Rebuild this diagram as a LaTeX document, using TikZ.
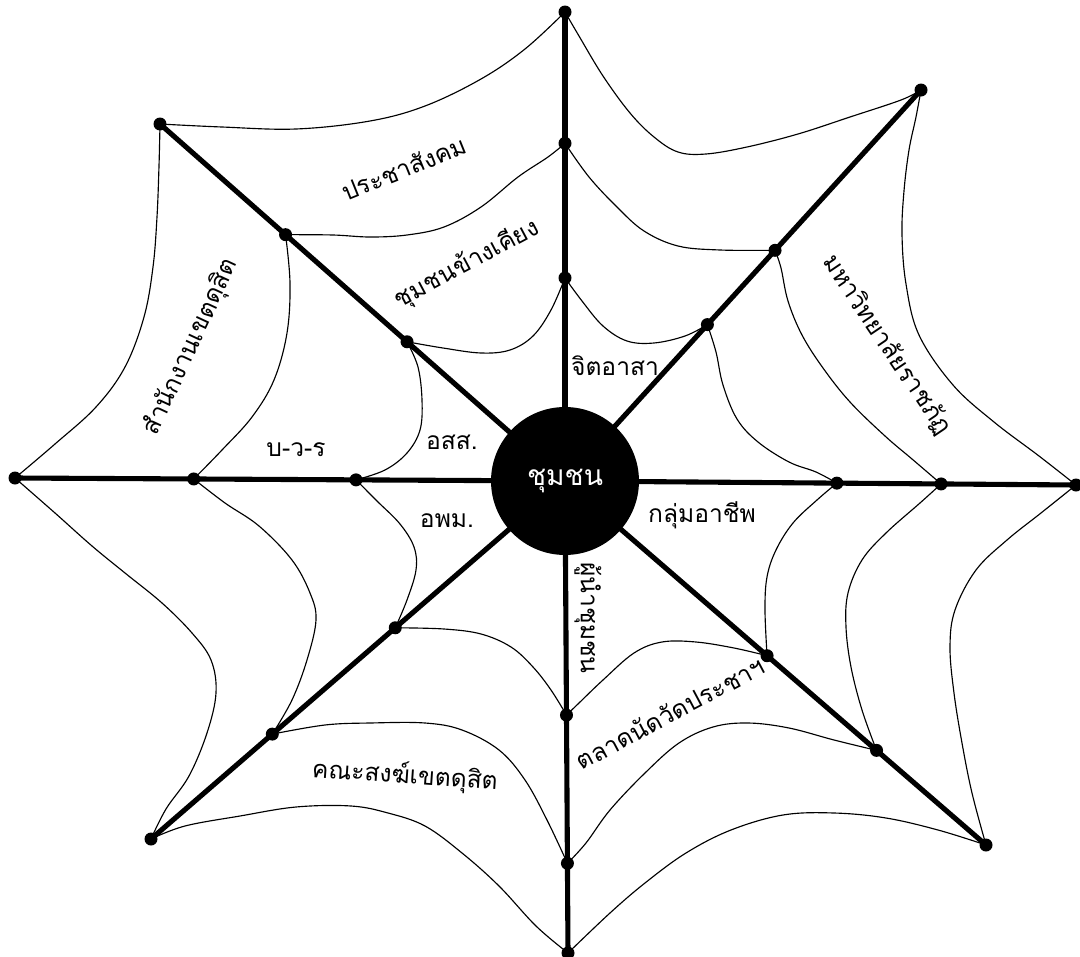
\documentclass[tikz,border=0pt]{standalone}
\usepackage{fontspec}
\setmainfont{Loma}[Script=Thai]
\usetikzlibrary{calc}
\begin{document}
\begin{tikzpicture}[x=0.02cm,y=-0.02cm,
  spoke/.style={line width=2.9pt},
  web/.style={line width=0.65pt},
  dotfill/.style={fill=black},
  lbl/.style={font=\fontsize{14pt}{17pt}\selectfont, inner sep=0pt},
  hub/.style={circle, fill=black, text=white, minimum size=2.96cm, inner sep=0pt, font=\fontsize{16pt}{19pt}\selectfont}]
\useasboundingbox (0,0) rectangle (1080,957);
\fill[white] (0,0) rectangle (1080,957);
% centre and spoke ends
\coordinate (C) at (565,481);
\coordinate (o1) at (565,12);
\coordinate (o2) at (921,90);
\coordinate (o3) at (1076,485);
\coordinate (o4) at (986,845);
\coordinate (o5) at (568,953);
\coordinate (o6) at (151,839);
\coordinate (o7) at (15,478);
\coordinate (o8) at (160,124);
% middle ring
\coordinate (m1) at ($(C)!0.72!(o1)$);
\coordinate (m2) at ($(C)!0.59!(o2)$);
\coordinate (m3) at ($(C)!0.736!(o3)$);
\coordinate (m4) at ($(C)!0.74!(o4)$);
\coordinate (m5) at ($(C)!0.81!(o5)$);
\coordinate (m6) at ($(C)!0.707!(o6)$);
\coordinate (m7) at ($(C)!0.675!(o7)$);
\coordinate (m8) at ($(C)!0.69!(o8)$);
% inner ring
\coordinate (i1) at ($(C)!0.433!(o1)$);
\coordinate (i2) at ($(C)!0.40!(o2)$);
\coordinate (i3) at ($(C)!0.532!(o3)$);
\coordinate (i4) at ($(C)!0.48!(o4)$);
\coordinate (i5) at ($(C)!0.496!(o5)$);
\coordinate (i6) at ($(C)!0.41!(o6)$);
\coordinate (i7) at ($(C)!0.38!(o7)$);
\coordinate (i8) at ($(C)!0.39!(o8)$);
% spokes
\foreach \k in {1,...,8} \draw[spoke] (C) -- (o\k);
% outer ring
\draw[web] plot[smooth,tension=0.6] coordinates {(o8) (222,127) (296,129) (370,121) (425,106) (481,79) (525,49) (o1)};
\draw[web] plot[smooth,tension=0.6] coordinates {(o1) (579,36) (603,76) (630,113) (654,137) (678,152) (706,154) (747,147) (798,134) (850,117) (901,100) (o2)};
\draw[web] plot[smooth,tension=0.6] coordinates {(o2) (916,117) (909,150) (904,191) (902,234) (906,284) (919,335) (953,385) (994,422) (1039,456) (o3)};
\draw[web] plot[smooth,tension=0.6] coordinates {(o3) (1041,513) (1007,540) (976,570) (955,610) (950,647) (954,693) (962,743) (972,793) (o4)};
\draw[web] plot[smooth,tension=0.6] coordinates {(o4) (938,830) (886,818) (834,813) (783,815) (731,830) (686,853) (645,883) (610,913) (o5)};
\draw[web] plot[smooth,tension=0.6] coordinates {(o5) (536,926) (499,886) (462,853) (425,826) (388,813) (351,806) (296,807) (240,816) (185,826) (o6)};
\draw[web] plot[smooth,tension=0.6] coordinates {(o6) (166,809) (189,776) (207,733) (216,693) (211,660) (192,633) (162,603) (125,573) (92,546) (55,513) (o7)};
\draw[web] plot[smooth,tension=0.6] coordinates {(o7) (55,444) (96,407) (125,367) (144,317) (153,267) (157,217) (159,166) (o8)};
% middle ring
\draw[web] plot[smooth,tension=0.6] coordinates {(m8) (333,235) (370,237) (407,235) (444,227) (481,207) (518,177) (548,157) (m1)};
\draw[web] plot[smooth,tension=0.6] coordinates {(m1) (589,177) (617,207) (644,231) (678,246) (720,250) (m2)};
\draw[web] plot[smooth,tension=0.6] coordinates {(m2) (781,268) (788,301) (802,335) (823,368) (850,402) (885,436) (912,459) (m3)};
\draw[web] plot[smooth,tension=0.6] coordinates {(m3) (920,503) (886,533) (862,560) (848,593) (846,627) (851,667) (862,710) (m4)};
\draw[web] plot[smooth,tension=0.6] coordinates {(m4) (834,740) (789,728) (748,723) (713,727) (679,743) (645,773) (610,810) (586,843) (m5)};
\draw[web] plot[smooth,tension=0.6] coordinates {(m5) (547,820) (525,780) (499,750) (462,730) (425,723) (370,723) (325,725) (m6)};
\draw[web] plot[smooth,tension=0.6] coordinates {(m6) (292,700) (307,660) (316,620) (310,593) (292,560) (259,526) (225,503) (m7)};
\draw[web] plot[smooth,tension=0.6] coordinates {(m7) (222,450) (252,417) (274,380) (287,333) (290,283) (m8)};
% inner ring
\draw[web] plot[smooth,tension=0.6] coordinates {(i8) (443,348) (481,353) (510,350) (533,336) (551,310) (i1)};
\draw[web] plot[smooth,tension=0.6] coordinates {(i1) (582,301) (603,326) (627,341) (654,343) (685,336) (i2)};
\draw[web] plot[smooth,tension=0.6] coordinates {(i2) (716,352) (723,385) (737,419) (758,442) (789,462) (816,472) (i3)};
\draw[web] plot[smooth,tension=0.6] coordinates {(i3) (817,500) (793,523) (776,550) (767,577) (765,610) (i4)};
\draw[web] plot[smooth,tension=0.6] coordinates {(i4) (734,648) (696,642) (662,642) (634,653) (603,680) (579,703) (i5)};
\draw[web] plot[smooth,tension=0.6] coordinates {(i5) (551,690) (533,667) (511,647) (481,634) (444,629) (i6)};
\draw[web] plot[smooth,tension=0.6] coordinates {(i6) (407,600) (416,570) (414,547) (400,524) (377,501) (i7)};
\draw[web] plot[smooth,tension=0.6] coordinates {(i7) (385,470) (407,453) (420,430) (422,400) (418,367) (i8)};
% hub
\node[hub] (hub) at (C) {ชุมชน};
% dots
\foreach \p in {o1,o2,o3,o4,o5,o6,o7,o8,m1,m2,m3,m4,m5,m6,m7,m8,i1,i2,i3,i4,i5,i6,i7,i8}
  \fill[dotfill] (\p) circle (6.5);
% labels
\node[lbl, rotate=22] (t1) at (404,168) {ประชาสังคม};
\node[lbl, rotate=28] (t2) at (467,264) {ชุมชนข้างเคียง};
\node[lbl, rotate=65] (t3) at (191,347) {สำนักงานเขตดุสิต};
\node[lbl] (t4) at (296,450) {บ-ว-ร};
\node[lbl] (t5) at (452,442) {อสส.};
\node[lbl] (t6) at (447,521) {อพม.};
\node[lbl] (t7) at (615,366) {จิตอาสา};
\node[lbl] (t8) at (702,515) {กลุ่มอาชีพ};
\node[lbl, rotate=-90] (t9) at (588,618) {ผู้นำชุมชน};
\node[lbl, rotate=28] (t10) at (670,713) {ตลาดนัดวัดประชาฯ};
\node[lbl, rotate=-56] (t11) at (887,345) {มหาวิทยาลัยราชภัฏ};
\node[lbl, rotate=-4] (t12) at (405,776) {คณะสงฆ์เขตดุสิต};
\end{tikzpicture}
\end{document}
